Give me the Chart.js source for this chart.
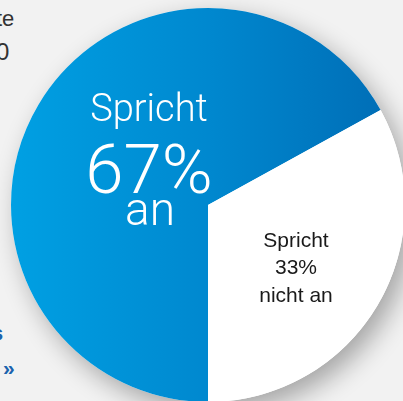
<!DOCTYPE html>
<html>
<head>
<meta charset="utf-8">
<script src="https://cdn.jsdelivr.net/npm/chart.js@4/dist/chart.umd.min.js"></script>
<style>
  html, body { margin: 0; padding: 0; }
  body { width: 403px; height: 401px; overflow: hidden; background: #f2f2f2; position: relative; font-family: "Liberation Sans", Arial, sans-serif; }
  .frag { position: absolute; white-space: nowrap; }
  #wrap { position: absolute; left: -2px; top: -5px; width: 420px; height: 420px; }
</style>
</head>
<body>
<div class="frag" style="left:-4px; top:6px; font-size:22px; color:#333;">te</div>
<div class="frag" style="left:-4px; top:38px; font-size:24px; color:#333;">0</div>
<div class="frag" style="left:-8px; top:322px; font-size:20px; font-weight:bold; color:#1b63ae;">s</div>
<div class="frag" style="left:3px; top:356px; font-size:21px; font-weight:bold; color:#1b63ae;">»</div>
<div id="wrap"><canvas id="pieChart" width="420" height="420"></canvas></div>
<script>
// Pie data
const labels = ['Spricht an', 'Spricht nicht an'];
const values = [67, 33];
const labelLines = [['Spricht', '67%', 'an'], ['Spricht', '33%', 'nicht an']];

const R = 197;

// soft shadow under the whole pie
const shadowPlugin = {
    id: 'pieShadow',
    beforeDatasetsDraw(chart) {
        const arc = chart.getDatasetMeta(0).data[0];
        const c = chart.ctx;
        c.save();
        c.shadowColor = 'rgba(0,0,0,0.32)';
        c.shadowBlur = 26;
        c.shadowOffsetX = 8;
        c.shadowOffsetY = 10;
        c.fillStyle = '#ffffff';
        c.beginPath();
        c.arc(arc.x, arc.y, arc.outerRadius, 0, Math.PI * 2);
        c.fill();
        c.restore();
    }
};

// texts inside the slices
const textPlugin = {
    id: 'sliceText',
    afterDatasetsDraw(chart) {
        const arc = chart.getDatasetMeta(0).data[0];
        const c = chart.ctx;
        const cx = arc.x, cy = arc.y;
        c.save();
        c.textAlign = 'center';
        c.textBaseline = 'alphabetic';
        c.fillStyle = '#ffffff';
        c.font = '300 38px Roboto, "Liberation Sans", sans-serif';
        c.fillText(labelLines[0][0], cx - 59, cy - 84);
        c.font = '300 69px Roboto, "Liberation Sans", sans-serif';
        c.fillText(labelLines[0][1], cx - 59, cy - 12);
        c.font = '300 46px Roboto, "Liberation Sans", sans-serif';
        c.fillText(labelLines[0][2], cx - 58, cy + 20);

        c.fillStyle = '#1a1a1a';
        c.font = '21px "Liberation Sans", Arial, sans-serif';
        c.fillText(labelLines[1][0], cx + 88, cy + 42);
        c.fillText(labelLines[1][1], cx + 88, cy + 69);
        c.fillText(labelLines[1][2], cx + 88, cy + 97);
        c.restore();
    }
};

function sliceColor(context) {
    if (context.dataIndex === 1) return '#ffffff';
    const chart = context.chart;
    const meta = chart.getDatasetMeta(0);
    const arc = meta.data[0];
    const cx = arc && arc.x ? arc.x : 210;
    const g = chart.ctx.createLinearGradient(cx - R, 0, cx + R, 0);
    g.addColorStop(0, '#00a0e3');
    g.addColorStop(0.5, '#0088cf');
    g.addColorStop(1, '#006bb4');
    return g;
}

const ctx = document.getElementById('pieChart').getContext('2d');

new Chart(ctx, {
    type: 'pie',
    data: {
        labels: labels,
        datasets: [{
            data: values,
            backgroundColor: sliceColor,
            borderWidth: 0
        }]
    },
    options: {
        responsive: false,
        animation: false,
        rotation: 180,
        radius: R,
        layout: { padding: 0 },
        plugins: {
            legend: { display: false },
            tooltip: { enabled: false }
        }
    },
    plugins: [shadowPlugin, textPlugin]
});
</script>
</body>
</html>
